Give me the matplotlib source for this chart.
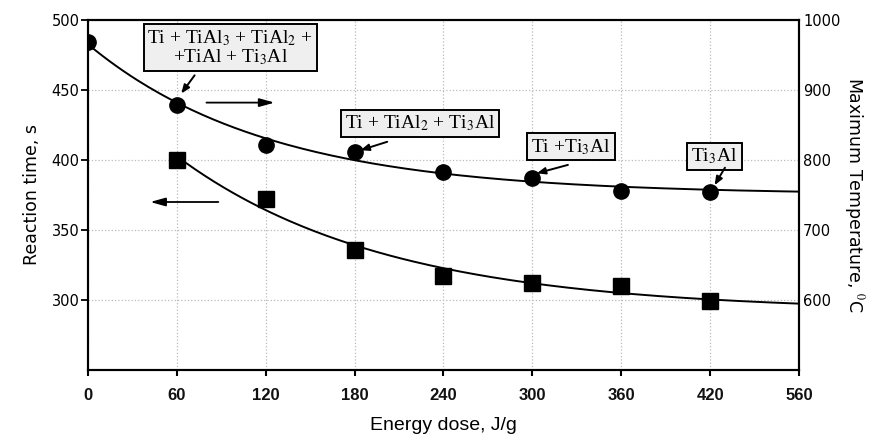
import matplotlib
matplotlib.use("Agg")
import matplotlib.pyplot as plt
import numpy as np

# energy dose (J/g) at which samples were taken
dose_temp = [0, 60, 120, 180, 240, 300, 360, 420]
max_temp = [968, 878, 822, 812, 783, 774, 756, 754]

dose_time = [60, 120, 180, 240, 300, 360, 420]
reaction_time = [400, 372, 336, 317, 312, 310, 299]

x_ticks = [0, 60, 120, 180, 240, 300, 360, 420, 480]
x_labels = ["0", "60", "120", "180", "240", "300", "360", "420", "560"]

# phase labels and the circle each one points at
phases = [r"Ti + TiAl$_3$ + TiAl$_2$ +" "\n" r"+TiAl + Ti$_3$Al",
          r"Ti + TiAl$_2$ + Ti$_3$Al",
          r"Ti +Ti$_3$Al",
          r"Ti$_3$Al"]


def exp_fit(x, y, x_new):
    # y = a + b*exp(-x/c), c by grid search, a/b by least squares
    x = np.asarray(x, float)
    y = np.asarray(y, float)
    best = None
    for c in np.linspace(20, 500, 481):
        A = np.column_stack([np.ones_like(x), np.exp(-x / c)])
        coef = np.linalg.lstsq(A, y, rcond=None)[0]
        err = np.sum((A @ coef - y) ** 2)
        if best is None or err < best[0]:
            best = (err, coef, c)
    _, (a, b), c = best
    return a + b * np.exp(-x_new / c)


plt.rcParams["mathtext.fontset"] = "stix"

fig = plt.figure(figsize=(8.7, 4.38), dpi=100)
ax = fig.add_axes([0.1011, 0.1553, 0.8173, 0.799])
ax2 = ax.twinx()

xs_t = np.linspace(0, 480, 200)
xs_r = np.linspace(60, 480, 200)

ax2.plot(xs_t, exp_fit(dose_temp, max_temp, xs_t), color="black", lw=1.4, zorder=3)
ax2.plot(dose_temp, max_temp, "o", color="black", ms=11, zorder=4)

ax.plot(xs_r, exp_fit(dose_time, reaction_time, xs_r), color="black", lw=1.4, zorder=3)
ax.plot(dose_time, reaction_time, "s", color="black", ms=11, zorder=4)

ax.set_xlim(0, 480)
ax.set_ylim(250, 500)
ax2.set_ylim(500, 1000)

ax.set_xticks(x_ticks)
ax.set_xticklabels(x_labels, family=["Liberation Sans Narrow", "Liberation Sans"],
                   fontsize=12, fontweight="bold", color="#111111")
ax.set_yticks([300, 350, 400, 450, 500])
ax.tick_params(axis="y", labelsize=10.5, length=5, width=1.3, pad=1)
ax.tick_params(axis="x", length=4, width=1.5, pad=9)
ax2.set_yticks([600, 700, 800, 900, 1000])
ax2.tick_params(axis="y", labelsize=10.5, length=0, pad=3)

for a in (ax, ax2):
    for s in a.spines.values():
        s.set_linewidth(1.5)

ax.grid(True, linestyle=":", color="#bbbbbb", lw=0.9)
ax.set_axisbelow(True)

ax.set_xlabel("Energy dose, J/g", family=["Liberation Sans Narrow", "Liberation Sans"],
              fontsize=14, labelpad=10)
ax.set_ylabel("Reaction time, s", fontsize=12.5, labelpad=8)
ax2.set_ylabel(r"Maximum Temperature, $^{\mathrm{0}}$C", fontsize=12.5,
               rotation=-90, labelpad=18)

# phase boxes (temperature axis units)
box_pos = [(96, 961), (224, 852), (326, 819), (423, 805)]
arrow_seg = [((72, 921), (63, 895)), ((202, 826), (184, 814)),
             ((324, 793), (303, 781)), ((430, 789), (423, 764))]
box_style = dict(boxstyle="square,pad=0.2", fc="#efefef", ec="black", lw=1.4)
for txt, (bx, by), (p0, p1) in zip(phases, box_pos, arrow_seg):
    ax2.text(bx, by, txt, ha="center", va="center", multialignment="center",
             family="Liberation Serif", fontsize=14, bbox=box_style, zorder=6,
             linespacing=0.95)
    ax2.annotate("", xy=p1, xytext=p0,
                 arrowprops=dict(arrowstyle="-|>,head_length=0.5,head_width=0.2",
                                 color="black", lw=1.4, shrinkA=0, shrinkB=0), zorder=6)

# axis direction arrows
ax.annotate("", xy=(126, 441), xytext=(80, 441),
            arrowprops=dict(arrowstyle="-|>,head_length=0.9,head_width=0.25",
                            color="black", lw=1.3, shrinkA=0, shrinkB=0))
ax.annotate("", xy=(42, 370), xytext=(88, 370),
            arrowprops=dict(arrowstyle="-|>,head_length=0.9,head_width=0.25",
                            color="black", lw=1.3, shrinkA=0, shrinkB=0))

fig.savefig("out.png", dpi=100)
